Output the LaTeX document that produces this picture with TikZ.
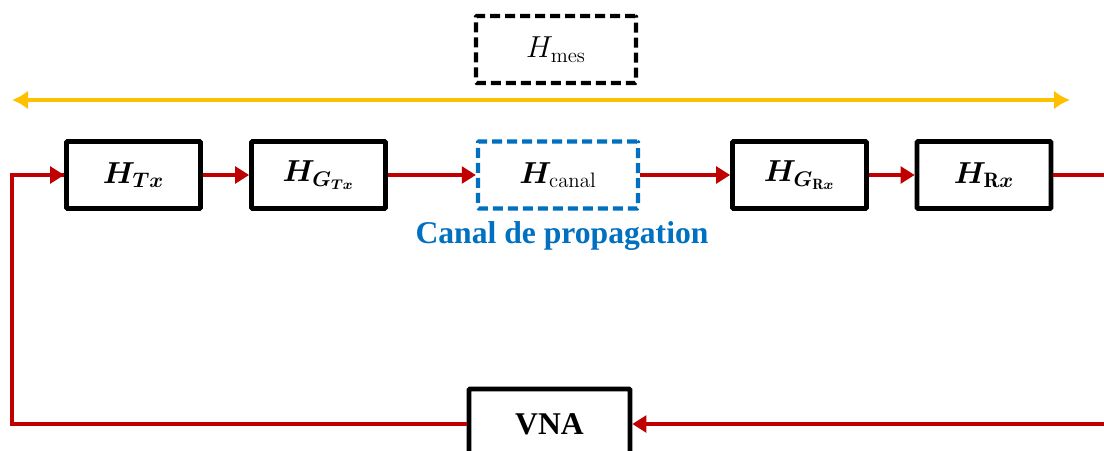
\documentclass[tikz,border=0pt]{standalone}
\usepackage{bm}
\usepackage{fontspec}
\usetikzlibrary{arrows.meta,positioning}
\newfontfamily\labelfont{Liberation Serif}
\definecolor{sigred}{HTML}{C00000}
\definecolor{mesyellow}{HTML}{FFC000}
\definecolor{canalblue}{HTML}{0070C0}

\begin{document}
\begin{tikzpicture}[
    block/.style={draw=black, line width=2.6pt, rounded corners=0.5pt,
      minimum width=2.68cm, minimum height=1.34cm, fill=white,
      font=\fontsize{17}{20}\selectfont},
    dashblock/.style={block, line width=2.4pt, minimum width=3.2cm, dash pattern=on 2mm off 1mm},
    sig/.style={draw=sigred, line width=2.4pt},
    sigarrow/.style={sig, -{Triangle[length=2.8mm,width=3.3mm]}}
  ]
  \useasboundingbox (0,0) rectangle (22.08,9);

  % Measured transfer function
  \node[dashblock] (mes) at (11.12,8.01) {$H_{\mathrm{mes}}$};
  \coordinate (mesL) at (0.24,7.0);
  \coordinate (mesR) at (21.4,7.0);
  \draw[mesyellow, line width=2.8pt,
        {Latex[length=3.2mm,width=3.8mm]}-{Latex[length=3.2mm,width=3.8mm]}] (mesL) -- (mesR);

  % Measurement chain
  \node[block] (tx) at (2.67,5.5) {$\bm{H}_{\bm{T}\bm{x}}$};
  \node[block] (gtx) at (6.37,5.5) {$\bm{H}_{\bm{G}_{\bm{T}\bm{x}}}$};
  \node[dashblock, draw=canalblue] (canal) at (11.16,5.5) {$\bm{H}_{\mathrm{canal}}$};
  \node[block] (grx) at (15.99,5.5) {$\bm{H}_{\bm{G}_{\mathbf{R}\bm{x}}}$};
  \node[block] (rx) at (19.68,5.5) {$\bm{H}_{\mathbf{R}\bm{x}}$};
  \node[text=canalblue, font=\labelfont\bfseries\fontsize{18}{21}\selectfont]
    (canaltxt) at (11.24,4.28) {Canal de propagation};

  \foreach \a/\b in {tx/gtx, gtx/canal, canal/grx, grx/rx}
    \draw[sigarrow] (\a) -- (\b);

  % Analyser and return path
  \node[block, minimum width=3.22cm, minimum height=1.4cm,
        font=\labelfont\bfseries\fontsize{18}{20}\selectfont] (vna) at (10.99,0.52) {VNA};
  \coordinate (outR) at (22.3,5.5);
  \coordinate (inR) at (22.3,0.52);
  \coordinate (backL) at (0.24,0.52);
  \draw[sig] (rx) -- (outR);
  \draw[sigarrow] (inR) -- (vna);
  \draw[sig] (vna.west) -- (backL) |- (tx.west);
  \draw[sigarrow] (0.5,5.5) -- (tx.west);
\end{tikzpicture}
\end{document}
